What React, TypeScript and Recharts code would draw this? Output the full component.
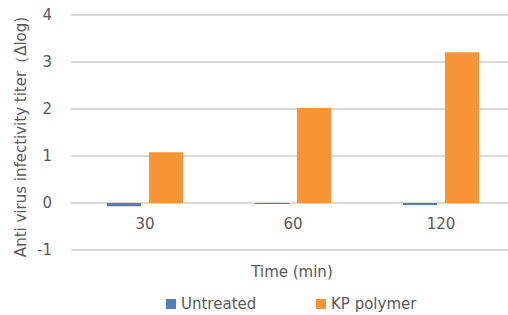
import { BarChart, Bar, XAxis, YAxis, CartesianGrid } from "recharts";

const categories = ["30", "60", "120"];
const untreated = [-0.07, -0.02, -0.04];
const kpPolymer = [1.08, 2.02, 3.21];
const yTicks = [-1, 0, 1, 2, 3, 4];

const BLUE = "#4f7fb8";
const ORANGE = "#f79433";
const TEXT = "#595959";
const FONT = "'DejaVu Sans', sans-serif";

const data = categories.map((time, i) => ({
  time,
  untreated: untreated[i],
  kp: kpPolymer[i],
}));

const CategoryTick = ({ x, y, payload }: any) => (
  <text x={x} y={y - 29} textAnchor="middle" fill={TEXT} fontSize={15} fontFamily={FONT}>
    {payload.value}
  </text>
);

const YTitle = () => (
  <text
    x={26}
    y={137}
    transform="rotate(-90 26 137)"
    textAnchor="middle"
    fill={TEXT}
    fontSize={15}
    fontFamily={FONT}
  >
    Anti virus infectivity titer（Δlog)
  </text>
);

const XTitle = () => (
  <text x={292} y={277} textAnchor="middle" fill={TEXT} fontSize={15} fontFamily={FONT}>
    Time (min)
  </text>
);

// legend kept outside the chart so it doesn't shrink the plot area
const legendItems = [
  { name: "Untreated", color: BLUE, left: 166 },
  { name: "KP polymer", color: ORANGE, left: 316 },
];

export default function App() {
  return (
    <div style={{ position: "absolute", left: 0, top: 0, width: 508, height: 315, overflow: "hidden", background: "#fff" }}>
      <BarChart
        width={520}
        height={315}
        data={data}
        margin={{ top: 15, right: 5, bottom: 35, left: 0 }}
        barSize={34}
        barGap={8}
      >
        <CartesianGrid vertical={false} stroke="#d9d9d9" strokeWidth={2} />
        <XAxis
          dataKey="time"
          height={30}
          axisLine={false}
          tickLine={false}
          tick={<CategoryTick />}
          label={<XTitle />}
        />
        <YAxis
          width={71}
          domain={[-1, 4]}
          ticks={yTicks}
          axisLine={false}
          tickLine={false}
          tickMargin={13}
          tick={{ fill: TEXT, fontSize: 15, fontFamily: FONT }}
          label={<YTitle />}
        />
        <Bar dataKey="untreated" name="Untreated" fill={BLUE} isAnimationActive={false} />
        <Bar dataKey="kp" name="KP polymer" fill={ORANGE} isAnimationActive={false} />
      </BarChart>
      {legendItems.map((item) => (
        <div key={item.name} style={{ position: "absolute", left: item.left, top: 294, fontFamily: FONT, fontSize: 15, color: TEXT, lineHeight: "20px" }}>
          <span style={{ display: "inline-block", width: 10, height: 10, background: item.color, marginRight: 5 }} />
          {item.name}
        </div>
      ))}
    </div>
  );
}
